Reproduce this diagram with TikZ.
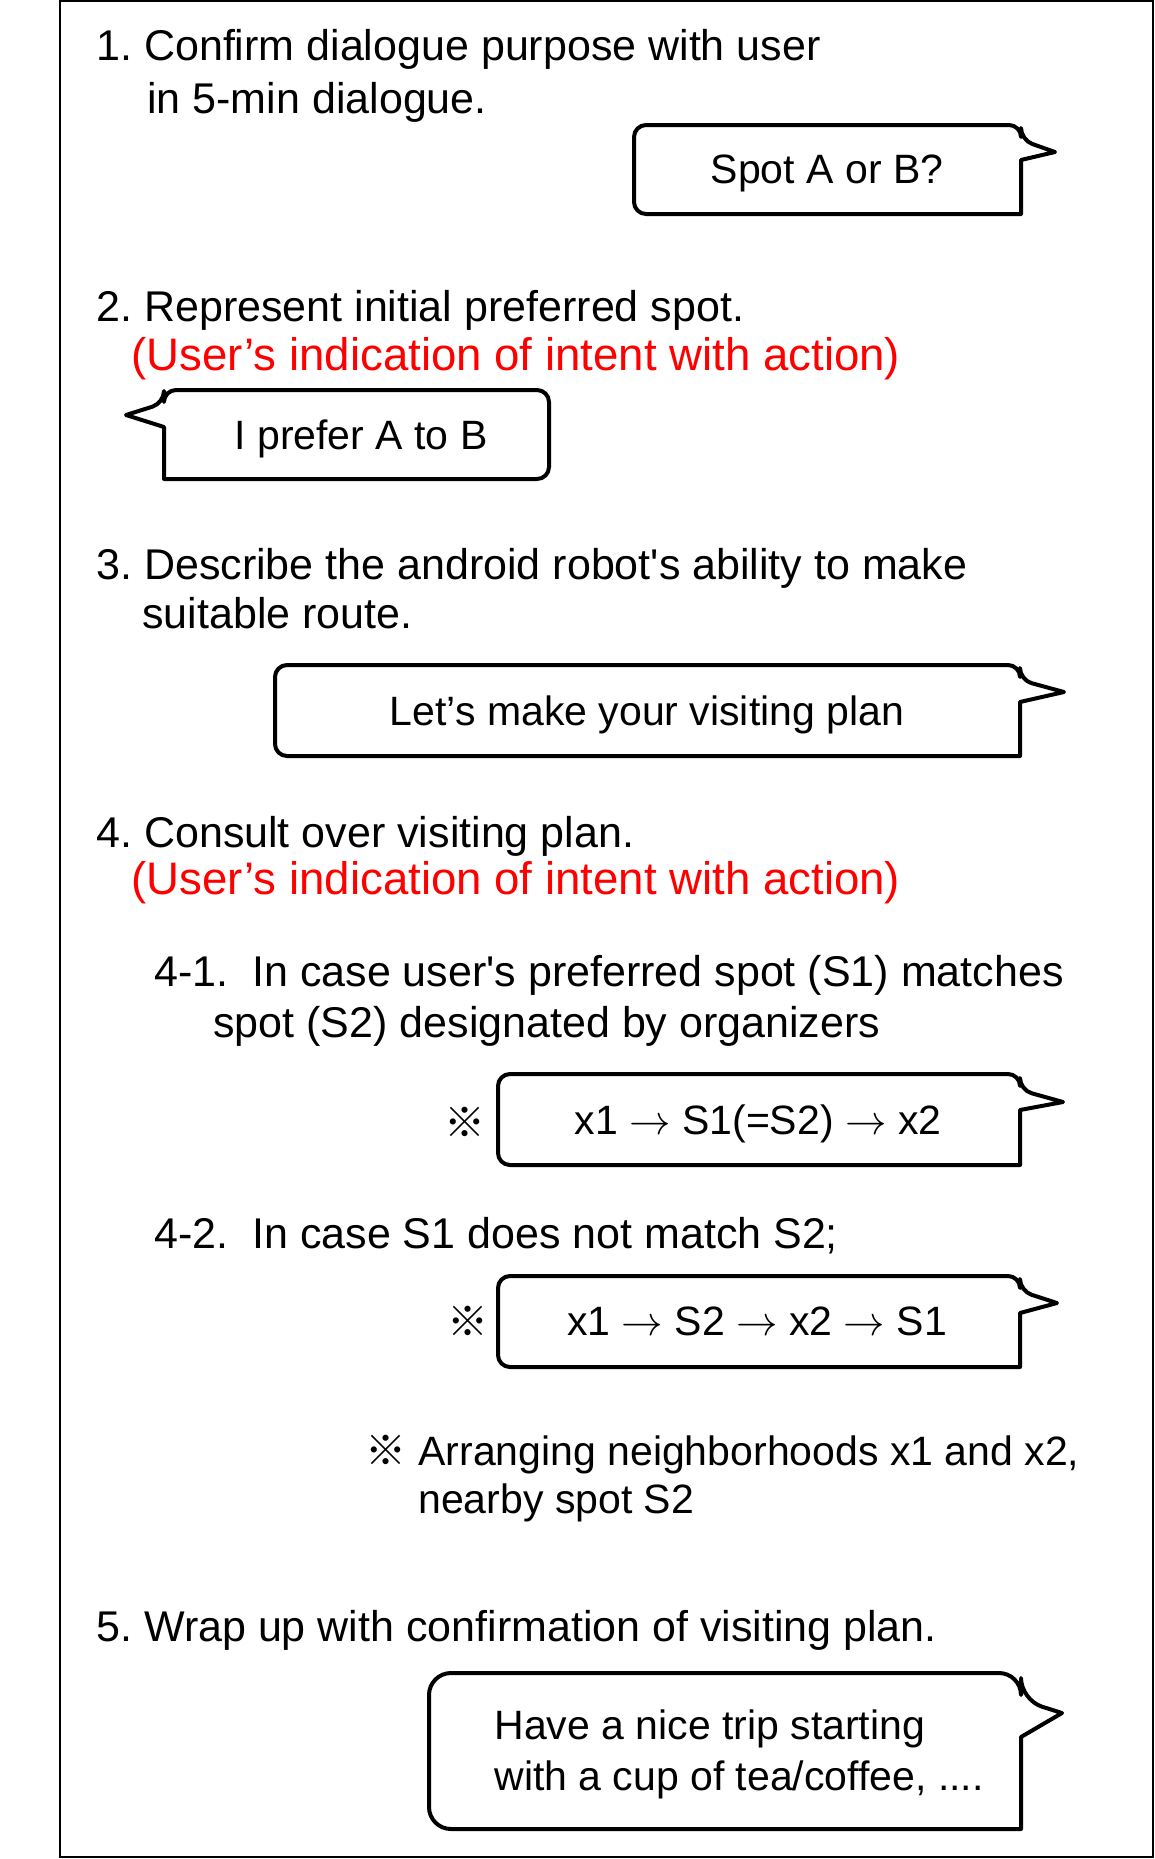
\documentclass[tikz,border=0pt]{standalone}
\usepackage{fontspec}
\setmainfont{Liberation Sans}
\newfontfamily\cjkfont{Noto Sans CJK JP}
\definecolor{redtext}{RGB}{255,0,0}
\frenchspacing
\tikzset{
  body/.style={anchor=base west, inner sep=0pt, font=\fontsize{21.5}{26}\selectfont},
  redline/.style={anchor=base west, inner sep=0pt, text=redtext, font=\fontsize{22.8}{27}\selectfont},
  btxt/.style={anchor=base, inner sep=0pt, font=\fontsize{20.5}{25}\selectfont},
  note/.style={anchor=base west, inner sep=0pt, font=\fontsize{20.5}{25}\selectfont},
  refmark/.style={anchor=base, inner sep=0pt, font=\cjkfont\fontsize{20.5}{25}\selectfont},
  bubble/.style={draw, line width=2pt, line join=round},
  frame/.style={draw, line width=1pt}
}
\newcommand\arr{$\rightarrow$}
% right-tail bubble: left, top, right, bottom, radius, join1, tipx, tipy, join2
\newcommand\bubR[9]{\draw[bubble] ({(#1+#3)/2},#2) [rounded corners=#5] -- (#3,#2) -- (#3,#6) [sharp corners] -- (#7,#8) -- (#3,#9) -- (#3,#4) [rounded corners=#5] -- (#1,#4) -- (#1,#2) -- cycle;}
% left-tail bubble
\newcommand\bubL[9]{\draw[bubble] ({(#1+#3)/2},#2) [rounded corners=#5] -- (#1,#2) -- (#1,#6) [sharp corners] -- (#7,#8) -- (#1,#9) -- (#1,#4) [rounded corners=#5] -- (#3,#4) -- (#3,#2) -- cycle;}
\begin{document}
\begin{tikzpicture}[x=0.5pt,y=-0.5pt]
\useasboundingbox (0,0) rectangle (1155,1859);
\draw[frame] (60,1) rectangle (1153,1857);

% 1
\node[body] (t1a) at (96,60) {1. Confirm dialogue purpose with user};
\node[body] (t1b) at (147,113) {in 5-min dialogue.};
\bubR{634}{125}{1021}{214}{6pt}{140}{1055}{152}{160}
\node[btxt] (b1) at (827,183) {Spot A or B?};

% 2
\node[body] (t2a) at (96,321) {2. Represent initial preferred spot.};
\node[redline] (t2b) at (131,370) {(User’s indication of intent with action)};
\bubL{164}{390}{549}{479}{6pt}{403}{126}{415}{427}
\node[btxt] (b2) at (361,449) {I prefer A to B};

% 3
\node[body] (t3a) at (96,579) {3. Describe the android robot\textquotesingle s ability to make};
\node[body] (t3b) at (142,628) {suitable route.};
\bubR{275}{665}{1020}{756}{6pt}{680}{1064}{692}{702}
\node[btxt] (b3) at (647,725) {Let’s make your visiting plan};

% 4
\node[body] (t4a) at (96,847) {4. Consult over visiting plan.};
\node[redline] (t4b) at (131,894) {(User’s indication of intent with action)};
\node[body] (t41a) at (154,986) {4-1.\ \ In case user\textquotesingle s preferred spot (S1) matches};
\node[body] (t41b) at (213,1037) {spot (S2) designated by organizers};
\node[refmark] (m1) at (465,1137) {※};
\bubR{498}{1074}{1020}{1165}{6pt}{1090}{1063}{1102}{1110}
\node[btxt] (b4) at (758,1134) {x1 \arr{} S1(=S2) \arr{} x2};

\node[body] (t42) at (154,1248) {4-2.\ \ In case S1 does not match S2;};
\node[refmark] (m2) at (468,1336) {※};
\bubR{498}{1276}{1020}{1367}{6pt}{1291}{1057}{1303}{1313}
\node[btxt] (b5) at (757,1335) {x1 \arr{} S2 \arr{} x2 \arr{} S1};

\node[refmark] (m3) at (386,1465) {※};
\node[note] (n1) at (418,1465) {Arranging neighborhoods x1 and x2,};
\node[note] (n2) at (418,1513) {nearby spot S2};

% 5
\node[body] (t5) at (96,1641) {5. Wrap up with confirmation of visiting plan.};
\bubR{429}{1673}{1021}{1829}{11pt}{1700}{1062}{1713}{1737}
\node[note] (b6a) at (494,1739) {Have a nice trip starting};
\node[note] (b6b) at (494,1790) {with a cup of tea/coffee, ....};
\end{tikzpicture}
\end{document}
